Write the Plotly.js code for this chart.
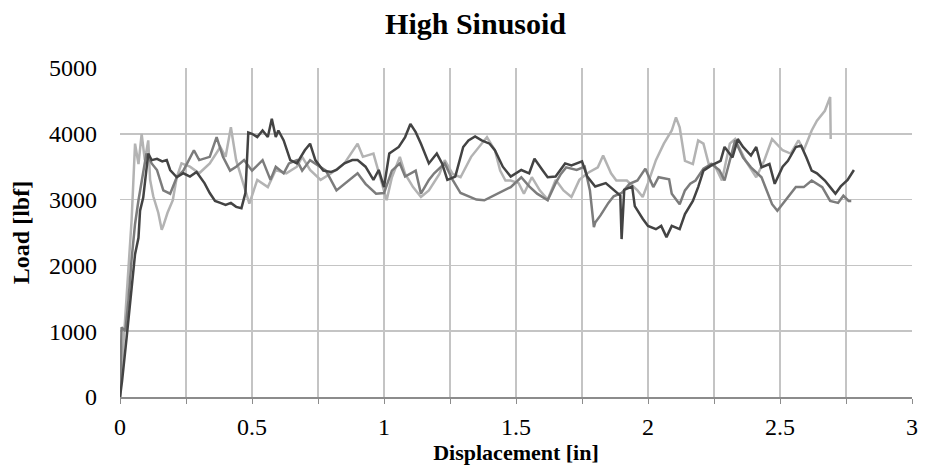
<!DOCTYPE html>
<html>
<head>
<meta charset="utf-8">
<script src="https://cdn.plot.ly/plotly-3.0.1.min.js"></script>
<style>html,body{margin:0;padding:0;background:#fff;}#chart{width:927px;height:467px;}</style>
</head>
<body>
<div id="chart"></div>
<script>
// Light gray test
const lightX = [0, 0.01, 0.025, 0.044, 0.057, 0.07, 0.082, 0.094, 0.107, 0.114, 0.126, 0.145, 0.158, 0.164, 0.18, 0.2, 0.215, 0.233, 0.265, 0.3, 0.34, 0.38, 0.4, 0.42, 0.44, 0.47, 0.49, 0.52, 0.56, 0.59, 0.63, 0.67, 0.69, 0.72, 0.76, 0.8, 0.85, 0.9, 0.92, 0.96, 0.98, 1.01, 1.03, 1.06, 1.08, 1.11, 1.14, 1.17, 1.21, 1.23, 1.26, 1.29, 1.33, 1.37, 1.39, 1.42, 1.44, 1.46, 1.48, 1.51, 1.53, 1.56, 1.59, 1.62, 1.65, 1.68, 1.71, 1.74, 1.77, 1.81, 1.83, 1.86, 1.88, 1.92, 1.96, 1.98, 2.0, 2.03, 2.06, 2.09, 2.106, 2.12, 2.14, 2.17, 2.19, 2.21, 2.23, 2.25, 2.28, 2.31, 2.33, 2.37, 2.41, 2.44, 2.47, 2.51, 2.54, 2.57, 2.59, 2.62, 2.64, 2.67, 2.69, 2.692];
const lightY = [0, 600, 1670, 2690, 3850, 3540, 4000, 3600, 3900, 3300, 3050, 2800, 2540, 2600, 2800, 2990, 3340, 3550, 3500, 3400, 3550, 3800, 3650, 4100, 3600, 3190, 2940, 3300, 3190, 3450, 3400, 3500, 3650, 3450, 3300, 3400, 3550, 3850, 3650, 3700, 3400, 2990, 3340, 3650, 3390, 3190, 3040, 3140, 3390, 3600, 3390, 3340, 3650, 3850, 3950, 3750, 3440, 3290, 3290, 3250, 3090, 3340, 3140, 3000, 3300, 3140, 3040, 3300, 3400, 3490, 3670, 3400, 3290, 3290, 3140, 3040, 3250, 3600, 3850, 4050, 4250, 4100, 3590, 3540, 3900, 3850, 3540, 3540, 3290, 3850, 3920, 3590, 3340, 3590, 3920, 3750, 3700, 3900, 3750, 4050, 4200, 4350, 4560, 3920];

// Medium gray test
const medX = [0, 0.006, 0.02, 0.032, 0.044, 0.057, 0.07, 0.082, 0.1, 0.12, 0.14, 0.164, 0.19, 0.215, 0.24, 0.28, 0.3, 0.34, 0.366, 0.39, 0.417, 0.44, 0.47, 0.5, 0.54, 0.57, 0.59, 0.62, 0.64, 0.67, 0.69, 0.72, 0.74, 0.78, 0.82, 0.85, 0.9, 0.93, 0.97, 1.0, 1.03, 1.06, 1.08, 1.12, 1.14, 1.17, 1.19, 1.23, 1.26, 1.29, 1.32, 1.35, 1.38, 1.41, 1.44, 1.48, 1.52, 1.55, 1.58, 1.62, 1.65, 1.67, 1.69, 1.73, 1.76, 1.78, 1.795, 1.8, 1.82, 1.85, 1.87, 1.9, 1.93, 1.96, 1.99, 2.02, 2.04, 2.08, 2.09, 2.12, 2.14, 2.16, 2.18, 2.21, 2.24, 2.27, 2.29, 2.31, 2.33, 2.36, 2.39, 2.43, 2.47, 2.49, 2.52, 2.56, 2.59, 2.62, 2.66, 2.69, 2.72, 2.74, 2.76, 2.77];
const medY = [0, 1060, 1000, 1470, 2100, 2630, 2990, 3300, 3700, 3550, 3450, 3140, 3090, 3340, 3440, 3750, 3600, 3650, 3950, 3650, 3440, 3500, 3600, 3440, 3600, 3300, 3500, 3400, 3550, 3600, 3440, 3600, 3550, 3440, 3140, 3240, 3400, 3240, 3090, 3100, 3440, 3550, 3350, 3440, 3090, 3300, 3400, 3550, 3300, 3100, 3050, 3000, 2990, 3050, 3100, 3190, 3340, 3200, 3090, 2990, 3250, 3390, 3490, 3450, 3500, 3140, 2580, 2650, 2760, 2950, 3050, 3100, 3240, 3290, 3470, 3190, 3340, 3310, 3090, 2930, 3140, 3240, 3290, 3470, 3540, 3450, 3290, 3590, 3900, 3640, 3490, 3340, 2930, 2830, 2980, 3190, 3190, 3290, 3190, 2980, 2950, 3060, 2980, 2980];

// Dark gray test
const darkX = [0, 0.008, 0.025, 0.044, 0.057, 0.07, 0.076, 0.088, 0.1, 0.107, 0.12, 0.14, 0.16, 0.177, 0.19, 0.215, 0.24, 0.265, 0.29, 0.32, 0.34, 0.36, 0.38, 0.4, 0.42, 0.44, 0.46, 0.475, 0.486, 0.5, 0.52, 0.54, 0.56, 0.575, 0.59, 0.6, 0.62, 0.645, 0.67, 0.7, 0.72, 0.74, 0.77, 0.8, 0.82, 0.85, 0.88, 0.9, 0.93, 0.96, 0.98, 1.0, 1.02, 1.056, 1.08, 1.1, 1.12, 1.14, 1.17, 1.2, 1.22, 1.24, 1.27, 1.3, 1.32, 1.345, 1.37, 1.4, 1.42, 1.45, 1.48, 1.52, 1.55, 1.57, 1.6, 1.62, 1.65, 1.686, 1.71, 1.75, 1.77, 1.8, 1.84, 1.87, 1.895, 1.9, 1.91, 1.94, 1.95, 1.98, 2.0, 2.03, 2.05, 2.07, 2.09, 2.12, 2.14, 2.17, 2.19, 2.21, 2.24, 2.275, 2.29, 2.32, 2.34, 2.36, 2.39, 2.41, 2.43, 2.46, 2.48, 2.51, 2.53, 2.56, 2.58, 2.6, 2.62, 2.64, 2.67, 2.69, 2.71, 2.73, 2.756, 2.78];
const darkY = [0, 250, 900, 1670, 2170, 2420, 2830, 3030, 3500, 3700, 3600, 3620, 3580, 3600, 3450, 3340, 3400, 3350, 3420, 3250, 3100, 2980, 2950, 2920, 2950, 2890, 2870, 3100, 4020, 4000, 3950, 4050, 3950, 4230, 3950, 4050, 3900, 3600, 3550, 3750, 3850, 3600, 3440, 3420, 3450, 3550, 3600, 3600, 3500, 3300, 3450, 3190, 3700, 3800, 3950, 4150, 4025, 3850, 3550, 3700, 3550, 3300, 3350, 3800, 3900, 3960, 3900, 3850, 3750, 3500, 3350, 3450, 3400, 3620, 3450, 3340, 3350, 3550, 3520, 3580, 3350, 3200, 3250, 3150, 3060, 2400, 3150, 3200, 2900, 2710, 2600, 2550, 2600, 2430, 2600, 2550, 2780, 2980, 3190, 3440, 3520, 3590, 3800, 3640, 3920, 3800, 3670, 3800, 3490, 3540, 3240, 3500, 3590, 3800, 3820, 3640, 3440, 3400, 3290, 3190, 3090, 3200, 3300, 3450];

const xTickVals = [0, 0.25, 0.5, 0.75, 1, 1.25, 1.5, 1.75, 2, 2.25, 2.5, 2.75, 3];
const xTickText = ['0', '', '0.5', '', '1', '', '1.5', '', '2', '', '2.5', '', '3'];
const yTickVals = [0, 1000, 2000, 3000, 4000, 5000];

const serif = 'Liberation Serif, Times New Roman, serif';
const traces = [
  {x: lightX, y: lightY, mode: 'lines', line: {color: '#b3b3b3', width: 2.5}, name: 'Light', hoverinfo: 'skip'},
  {x: medX, y: medY, mode: 'lines', line: {color: '#7c7c7c', width: 2.5}, name: 'Medium', hoverinfo: 'skip'},
  {x: darkX, y: darkY, mode: 'lines', line: {color: '#434343', width: 2.5}, name: 'Dark', hoverinfo: 'skip'}
];

const layout = {
  width: 927, height: 467,
  margin: {l: 120, r: 15, t: 68, b: 70},
  paper_bgcolor: '#ffffff', plot_bgcolor: '#ffffff',
  showlegend: false,
  title: {text: '<b>High Sinusoid</b>', font: {family: serif, size: 30, color: '#000'}, x: 0.513, xref: 'container', xanchor: 'center', y: 0.95, yref: 'container', yanchor: 'middle'},
  xaxis: {
    range: [0, 3], tickmode: 'array', tickvals: xTickVals, ticktext: xTickText,
    showgrid: true, gridcolor: '#c4c4c4', gridwidth: 1.5,
    showline: true, linecolor: '#8c8c8c', linewidth: 1.5,
    ticks: 'outside', ticklen: 5, tickcolor: '#8c8c8c', tickwidth: 1,
    tickfont: {family: serif, size: 24, color: '#000'},
    ticklabelstandoff: 3,
    zeroline: false, fixedrange: true,
    title: {text: '<b>Displacement [in]</b>', font: {family: serif, size: 22, color: '#000'}, standoff: 0}
  },
  yaxis: {
    range: [0, 5000], tickmode: 'array', tickvals: yTickVals,
    showgrid: true, gridcolor: '#c4c4c4', gridwidth: 1.5,
    showline: false, ticks: '', zeroline: false, fixedrange: true,
    tickfont: {family: serif, size: 24, color: '#000'},
    ticklabelstandoff: 22,
    title: {text: '<b>Load [lbf]</b>', font: {family: serif, size: 24, color: '#000'}, standoff: 12}
  }
};

Plotly.newPlot('chart', traces, layout, {staticPlot: true, displayModeBar: false});
</script>
</body>
</html>
